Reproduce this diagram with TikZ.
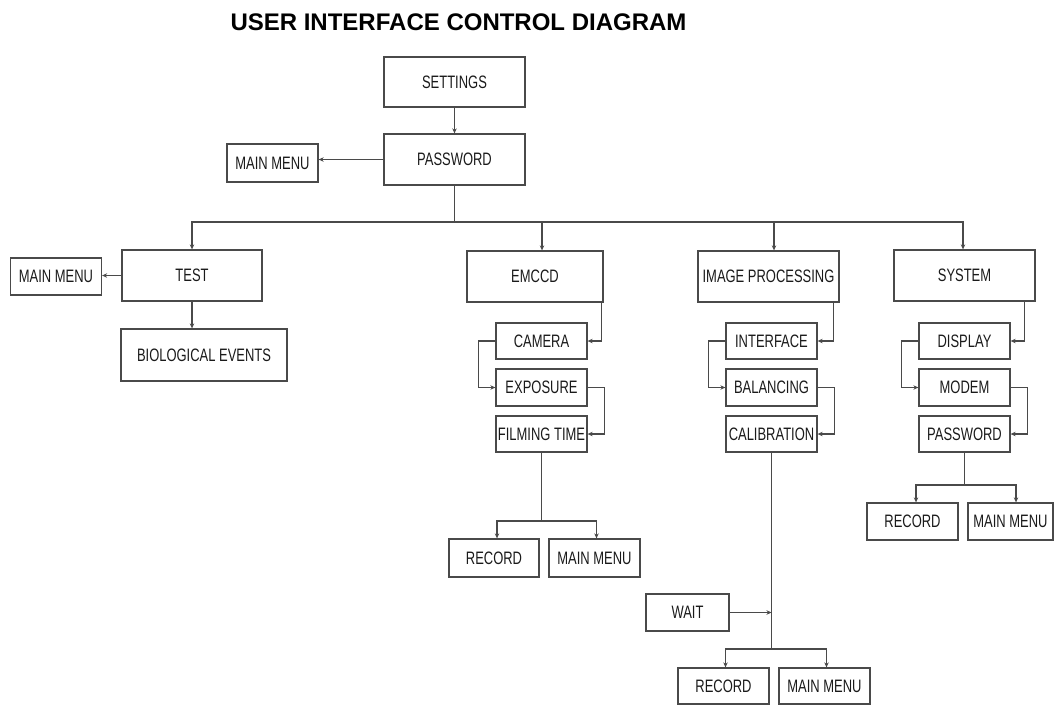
\documentclass[tikz,border=0pt]{standalone}
\usepackage{fontspec}
\setmainfont{Liberation Sans}
\newfontfamily\boxfont[FakeStretch=0.72]{Liberation Sans}
\newfontfamily\titlefont{Liberation Sans}
\usetikzlibrary{arrows.meta}
\definecolor{linec}{HTML}{4A4A4A}
\definecolor{textc}{HTML}{1A1A1A}
\tikzset{
  box/.style={draw=linec, line width=1.3pt, rectangle, inner sep=0pt, text=textc,
    font=\boxfont\fontsize{18}{20}\selectfont},
  wbox/.style={box, minimum width=141pt, minimum height=51pt},
  sbox/.style={box, minimum width=91pt, minimum height=37pt},
  conn/.style={draw=linec, line width=1.2pt},
  arr/.style={conn, -{Stealth[length=5pt,width=4.5pt]}}
}
\begin{document}
\begin{tikzpicture}[x=1pt,y=-1pt]
\useasboundingbox (0,0) rectangle (1054,705);
% title
\node[anchor=base, text=black, font=\titlefont\bfseries\fontsize{24}{28}\selectfont] (title) at (458.5,30) {USER INTERFACE CONTROL DIAGRAM};
% top
\node[wbox, minimum height=50pt] (settings) at (454.5,82) {SETTINGS};
\node[wbox] (pw) at (454.5,159.5) {PASSWORD};
\node[sbox, minimum height=38pt] (mm0) at (272.5,163) {MAIN MENU};
% test branch
\node[wbox, minimum width=140pt] (test) at (192,275.5) {TEST};
\node[sbox] (mm1) at (56,276.5) {MAIN MENU};
\node[box, minimum width=166pt, minimum height=52pt] (bio) at (204,355) {BIOLOGICAL EVENTS};
% emccd branch
\node[wbox, minimum width=136pt] (emccd) at (535,276.5) {EMCCD};
\node[sbox, minimum height=36pt] (camera) at (541.5,341) {CAMERA};
\node[sbox] (exposure) at (541.5,387.5) {EXPOSURE};
\node[sbox, minimum height=36pt] (filming) at (541.5,434) {FILMING TIME};
\node[sbox, minimum width=90pt, minimum height=38pt] (rec1) at (494,558) {RECORD};
\node[sbox, minimum height=38pt] (mm2) at (594.5,558) {MAIN MENU};
% image processing branch
\node[wbox] (imgp) at (768.5,276.5) {IMAGE PROCESSING};
\node[sbox, minimum height=36pt] (interface) at (771.5,341) {INTERFACE};
\node[sbox] (balancing) at (771.5,387.5) {BALANCING};
\node[sbox, minimum height=36pt] (calib) at (771.5,434) {CALIBRATION};
\node[sbox, minimum width=83pt] (wait) at (687.5,612.5) {WAIT};
\node[sbox, minimum height=36pt] (rec2) at (723.5,686) {RECORD};
\node[sbox, minimum height=36pt] (mm3) at (824.5,686) {MAIN MENU};
% system branch
\node[wbox] (system) at (964.5,275.5) {SYSTEM};
\node[sbox, minimum height=36pt] (display) at (964.5,341) {DISPLAY};
\node[sbox] (modem) at (964.5,387.5) {MODEM};
\node[sbox, minimum height=36pt] (pw2) at (964.5,434) {PASSWORD};
\node[sbox] (rec3) at (912.5,521.5) {RECORD};
\node[sbox, minimum width=85pt] (mm4) at (1010.5,521.5) {MAIN MENU};

% connectors top
\draw[arr] (settings) -- (pw);
\draw[arr] (pw.west) -- (mm0.east |- pw.west);
\coordinate (bus) at (454.5,222);
\draw[conn] (pw.south) -- (bus);
\draw[arr] (bus) -| (test.north);
\draw[arr] (bus) -| ([xshift=7pt]emccd.north);
\draw[arr] (bus) -| ([xshift=5.5pt]imgp.north);
\draw[arr] (bus) -| ([xshift=-1.5pt]system.north);
% test
\draw[arr] (test.west) -- (mm1.east |- test.west);
\draw[arr] (test.south) -- (bio.north -| test.south);
% emccd chain
\draw[arr] ([xshift=-2pt]emccd.south east) |- (camera.east);
\draw[arr] (camera.west) -- ++(-17,0) |- (exposure.west);
\draw[arr] (exposure.east) -- ++(17,0) |- (filming.east);
\coordinate (s1) at (filming.south |- 0,521);
\draw[conn] (filming.south) -- (s1);
\draw[arr] (s1) -| ([xshift=3pt]rec1.north);
\draw[arr] (s1) -| ([xshift=2pt]mm2.north);
% image processing chain
\draw[arr] ([xshift=-6pt]imgp.south east) |- (interface.east);
\draw[arr] (interface.west) -- ++(-17,0) |- (balancing.west);
\draw[arr] (balancing.east) -- ++(17,0) |- (calib.east);
\coordinate (s2) at (calib.south |- 0,649);
\draw[conn] (calib.south) -- (s2);
\draw[arr] (wait.east) -- (wait.east -| calib.south);
\draw[arr] (s2) -| ([xshift=2pt]rec2.north);
\draw[arr] (s2) -| ([xshift=2pt]mm3.north);
% system chain
\draw[arr] ([xshift=-11pt]system.south east) |- (display.east);
\draw[arr] (display.west) -- ++(-17,0) |- (modem.west);
\draw[arr] (modem.east) -- ++(17,0) |- (pw2.east);
\coordinate (s3) at (pw2.south |- 0,485);
\draw[conn] (pw2.south) -- (s3);
\draw[arr] (s3) -| ([xshift=3.5pt]rec3.north);
\draw[arr] (s3) -| ([xshift=5.5pt]mm4.north);
\end{tikzpicture}
\end{document}
